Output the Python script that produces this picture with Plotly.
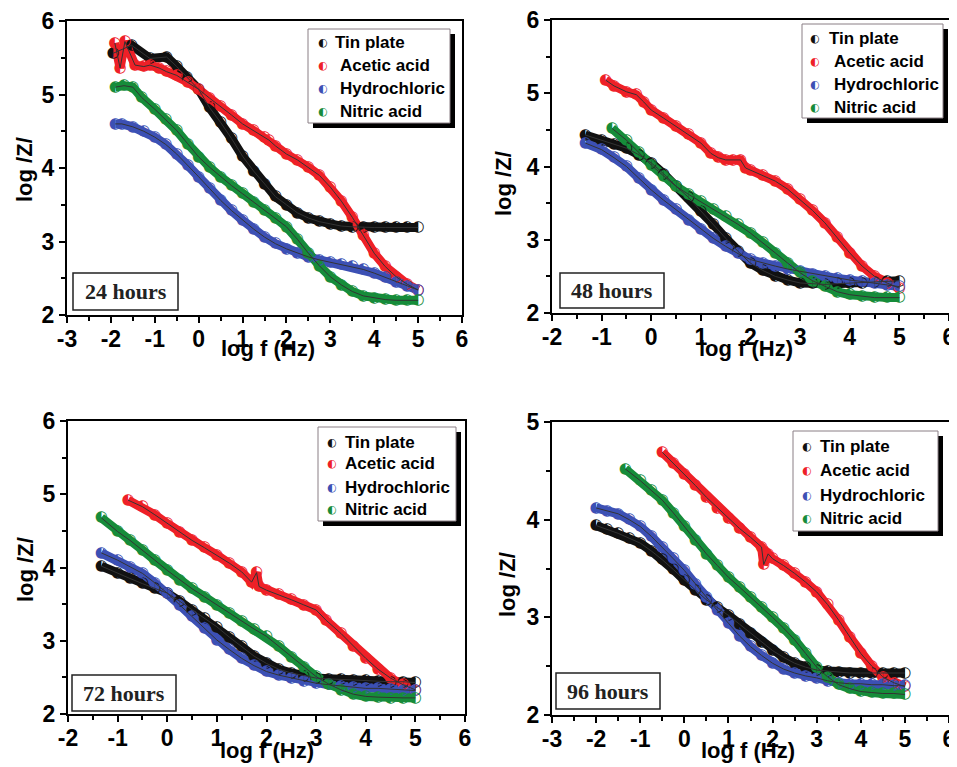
import plotly.graph_objects as go

W, H = 957, 767
PAGE_OFFSET = 8  # the page body margin shifts the figure by this many pixels

SERIES = ["Tin plate", "Acetic acid", "Hydrochloric", "Nitric acid"]
COLORS = ["#111111", "#ee2027", "#3c50b4", "#168c3a"]
PANEL_LABELS = ["24 hours", "48 hours", "72 hours", "96 hours"]
X_TICKS_A = [-3, -2, -1, 0, 1, 2, 3, 4, 5, 6]
X_TICKS_B = [-2, -1, 0, 1, 2, 3, 4, 5, 6]
Y_TICKS_A = [2, 3, 4, 5, 6]
Y_TICKS_B = [2, 3, 4, 5]

# ---------------- 24 hours ----------------
x24_tin = [-1.95, -1.53, -1.11, -0.73, -0.5, -0.27, 0, 0.25, 0.5, 0.75, 1.0, 1.25, 1.5, 1.75, 2.0, 2.25, 2.5, 2.75, 3.0, 3.25, 3.5, 3.75, 4.0, 4.25, 4.5, 4.75, 5.0]
y24_tin = [5.56, 5.67, 5.49, 5.51, 5.38, 5.24, 5.07, 4.82, 4.62, 4.40, 4.16, 3.96, 3.78, 3.61, 3.50, 3.39, 3.32, 3.27, 3.24, 3.21, 3.20, 3.19, 3.19, 3.19, 3.19, 3.19, 3.19]
x24_ace = [-1.91, -1.79, -1.68, -1.45, -1.25, -1.11, -0.9, -0.73, -0.5, -0.25, 0, 0.25, 0.5, 0.75, 1.0, 1.25, 1.5, 1.6, 1.75, 2.0, 2.25, 2.5, 2.75, 3.0, 3.25, 3.5, 3.75, 4.0, 4.25, 4.5, 4.75, 5.0]
y24_ace = [5.70, 5.36, 5.72, 5.40, 5.38, 5.40, 5.36, 5.31, 5.26, 5.17, 5.07, 4.95, 4.84, 4.72, 4.60, 4.51, 4.42, 4.38, 4.30, 4.19, 4.11, 4.01, 3.90, 3.74, 3.55, 3.33, 3.08, 2.84, 2.66, 2.52, 2.42, 2.34]
x24_hcl = [-1.9, -1.75, -1.5, -1.25, -1.0, -0.75, -0.5, -0.25, 0, 0.25, 0.5, 0.75, 1.0, 1.25, 1.5, 1.75, 2.0, 2.25, 2.5, 2.75, 3.0, 3.25, 3.5, 3.75, 4.0, 4.25, 4.5, 4.75, 5.0]
y24_hcl = [4.60, 4.60, 4.56, 4.50, 4.42, 4.32, 4.19, 4.04, 3.88, 3.72, 3.56, 3.42, 3.29, 3.17, 3.06, 2.97, 2.90, 2.84, 2.79, 2.75, 2.72, 2.69, 2.66, 2.62, 2.57, 2.51, 2.45, 2.39, 2.34]
x24_nit = [-1.9, -1.7, -1.5, -1.3, -1.0, -0.75, -0.5, -0.25, 0, 0.25, 0.5, 0.75, 1.0, 1.25, 1.5, 1.75, 2.0, 2.25, 2.5, 2.75, 3.0, 3.25, 3.5, 3.75, 4.0, 4.25, 4.5, 4.75, 5.0]
y24_nit = [5.10, 5.12, 5.10, 4.96, 4.80, 4.66, 4.51, 4.33, 4.15, 4.01, 3.88, 3.76, 3.65, 3.54, 3.43, 3.32, 3.20, 3.03, 2.84, 2.67, 2.52, 2.41, 2.32, 2.26, 2.23, 2.21, 2.20, 2.20, 2.20]

# ---------------- 48 hours ----------------
x48_tin = [-1.33, -1.0, -0.75, -0.5, -0.25, 0, 0.25, 0.5, 0.75, 1.0, 1.25, 1.5, 1.75, 2.0, 2.25, 2.5, 2.75, 3.0, 3.25, 3.5, 3.75, 4.0, 4.25, 4.5, 4.75, 5.0]
y48_tin = [4.43, 4.36, 4.31, 4.25, 4.16, 4.05, 3.90, 3.73, 3.58, 3.39, 3.21, 3.02, 2.84, 2.68, 2.58, 2.50, 2.45, 2.41, 2.40, 2.39, 2.40, 2.41, 2.41, 2.42, 2.43, 2.44]
x48_ace = [-0.92, -0.75, -0.5, -0.3, -0.15, 0, 0.25, 0.5, 0.75, 1.0, 1.2, 1.35, 1.5, 1.65, 1.8, 1.9, 2.0, 2.25, 2.5, 2.75, 3.0, 3.25, 3.5, 3.75, 4.0, 4.25, 4.5, 4.75, 5.0]
y48_ace = [5.18, 5.10, 5.02, 4.98, 4.88, 4.77, 4.66, 4.55, 4.44, 4.32, 4.18, 4.12, 4.09, 4.09, 4.09, 3.98, 3.95, 3.88, 3.80, 3.69, 3.55, 3.40, 3.23, 3.03, 2.82, 2.64, 2.50, 2.41, 2.34]
x48_hcl = [-1.33, -1.0, -0.75, -0.5, -0.25, 0, 0.25, 0.5, 0.75, 1.0, 1.25, 1.5, 1.75, 2.0, 2.25, 2.5, 2.75, 3.0, 3.25, 3.5, 3.75, 4.0, 4.25, 4.5, 4.75, 5.0]
y48_hcl = [4.32, 4.23, 4.12, 4.00, 3.84, 3.68, 3.54, 3.41, 3.27, 3.14, 3.02, 2.91, 2.81, 2.73, 2.68, 2.64, 2.60, 2.57, 2.53, 2.50, 2.47, 2.45, 2.43, 2.41, 2.38, 2.36]
x48_nit = [-0.79, -0.5, -0.25, 0, 0.25, 0.5, 0.75, 1.0, 1.25, 1.5, 1.75, 2.0, 2.25, 2.5, 2.75, 3.0, 3.25, 3.5, 3.75, 4.0, 4.25, 4.5, 4.75, 5.0]
y48_nit = [4.52, 4.36, 4.19, 4.02, 3.87, 3.73, 3.62, 3.52, 3.42, 3.32, 3.21, 3.09, 2.96, 2.82, 2.68, 2.55, 2.44, 2.36, 2.29, 2.25, 2.23, 2.21, 2.21, 2.21]

# ---------------- 72 hours ----------------
x72_tin = [-1.33, -1.0, -0.75, -0.5, -0.25, 0, 0.25, 0.5, 0.75, 1.0, 1.25, 1.5, 1.75, 2.0, 2.25, 2.5, 2.75, 3.0, 3.25, 3.5, 3.75, 4.0, 4.25, 4.5, 4.75, 5.0]
y72_tin = [4.02, 3.92, 3.85, 3.78, 3.72, 3.65, 3.54, 3.42, 3.31, 3.19, 3.05, 2.92, 2.79, 2.69, 2.61, 2.56, 2.52, 2.49, 2.48, 2.47, 2.46, 2.46, 2.45, 2.44, 2.44, 2.43]
x72_ace = [-0.79, -0.5, -0.25, 0, 0.25, 0.5, 0.75, 1.0, 1.25, 1.5, 1.7, 1.8, 1.85, 2.0, 2.25, 2.5, 2.75, 3.0, 3.2, 3.5, 3.75, 4.0, 4.25, 4.5, 4.75, 5.0]
y72_ace = [4.92, 4.83, 4.72, 4.60, 4.48, 4.37, 4.27, 4.17, 4.06, 3.94, 3.80, 3.93, 3.74, 3.69, 3.63, 3.56, 3.49, 3.42, 3.28, 3.10, 2.93, 2.76, 2.61, 2.49, 2.40, 2.33]
x72_hcl = [-1.33, -1.0, -0.75, -0.5, -0.25, 0, 0.25, 0.5, 0.75, 1.0, 1.25, 1.5, 1.75, 2.0, 2.25, 2.5, 2.75, 3.0, 3.25, 3.5, 3.75, 4.0, 4.25, 4.5, 4.75, 5.0]
y72_hcl = [4.20, 4.10, 4.01, 3.92, 3.79, 3.65, 3.49, 3.33, 3.17, 3.01, 2.88, 2.76, 2.66, 2.58, 2.53, 2.49, 2.45, 2.42, 2.40, 2.38, 2.36, 2.35, 2.35, 2.34, 2.33, 2.32]
x72_nit = [-1.33, -1.0, -0.75, -0.5, -0.25, 0, 0.25, 0.5, 0.75, 1.0, 1.25, 1.5, 1.75, 2.0, 2.25, 2.5, 2.75, 3.0, 3.25, 3.5, 3.75, 4.0, 4.25, 4.5, 4.75, 5.0]
y72_nit = [4.68, 4.49, 4.37, 4.24, 4.10, 3.96, 3.83, 3.71, 3.60, 3.49, 3.37, 3.26, 3.16, 3.06, 2.92, 2.78, 2.64, 2.51, 2.41, 2.33, 2.27, 2.24, 2.23, 2.22, 2.22, 2.22]

# ---------------- 96 hours ----------------
x96_tin = [-2.0, -1.75, -1.5, -1.25, -1.0, -0.75, -0.5, -0.25, 0, 0.25, 0.5, 0.75, 1.0, 1.25, 1.5, 1.75, 2.0, 2.25, 2.5, 2.75, 3.0, 3.25, 3.5, 3.75, 4.0, 4.25, 4.5, 4.75, 5.0]
y96_tin = [3.94, 3.90, 3.86, 3.81, 3.76, 3.68, 3.59, 3.49, 3.38, 3.28, 3.18, 3.10, 3.02, 2.93, 2.84, 2.75, 2.66, 2.59, 2.53, 2.49, 2.46, 2.45, 2.44, 2.43, 2.43, 2.43, 2.43, 2.43, 2.43]
x96_ace = [-0.5, -0.25, 0, 0.25, 0.5, 0.75, 1.0, 1.25, 1.5, 1.75, 1.8, 1.9, 2.0, 2.25, 2.5, 2.75, 3.0, 3.25, 3.5, 3.75, 4.0, 4.25, 4.5, 4.75, 5.0]
y96_ace = [4.69, 4.58, 4.47, 4.35, 4.23, 4.12, 4.01, 3.91, 3.82, 3.72, 3.54, 3.65, 3.60, 3.53, 3.45, 3.36, 3.26, 3.13, 2.97, 2.80, 2.63, 2.50, 2.39, 2.33, 2.29]
x96_hcl = [-2.0, -1.75, -1.5, -1.25, -1.0, -0.75, -0.5, -0.25, 0, 0.25, 0.5, 0.75, 1.0, 1.25, 1.5, 1.75, 2.0, 2.25, 2.5, 2.75, 3.0, 3.25, 3.5, 3.75, 4.0, 4.25, 4.5, 4.75, 5.0]
y96_hcl = [4.12, 4.09, 4.06, 4.00, 3.93, 3.83, 3.72, 3.60, 3.48, 3.34, 3.21, 3.07, 2.94, 2.81, 2.70, 2.61, 2.53, 2.47, 2.43, 2.40, 2.38, 2.35, 2.33, 2.32, 2.32, 2.31, 2.31, 2.30, 2.30]
x96_nit = [-1.34, -1.0, -0.75, -0.5, -0.25, 0, 0.25, 0.5, 0.75, 1.0, 1.25, 1.5, 1.75, 2.0, 2.25, 2.5, 2.75, 3.0, 3.25, 3.5, 3.75, 4.0, 4.25, 4.5, 4.75, 5.0]
y96_nit = [4.52, 4.40, 4.30, 4.20, 4.07, 3.93, 3.79, 3.65, 3.53, 3.41, 3.31, 3.21, 3.10, 3.00, 2.89, 2.77, 2.63, 2.49, 2.39, 2.31, 2.27, 2.24, 2.23, 2.22, 2.22, 2.21]

PANEL_DATA = [
    [(x24_tin, y24_tin), (x24_ace, y24_ace), (x24_hcl, y24_hcl), (x24_nit, y24_nit)],
    [(x48_tin, y48_tin), (x48_ace, y48_ace), (x48_hcl, y48_hcl), (x48_nit, y48_nit)],
    [(x72_tin, y72_tin), (x72_ace, y72_ace), (x72_hcl, y72_hcl), (x72_nit, y72_nit)],
    [(x96_tin, y96_tin), (x96_ace, y96_ace), (x96_hcl, y96_hcl), (x96_nit, y96_nit)],
]
PANEL_XTICKS = [X_TICKS_A, X_TICKS_B, X_TICKS_B, X_TICKS_A]
PANEL_YTICKS = [Y_TICKS_A, Y_TICKS_A, Y_TICKS_A, Y_TICKS_B]

# ---------------- layout geometry (screen pixels) ----------------
PLOT_BOXES = [(67, 21, 462, 315), (552, 20, 949, 313), (68, 421, 465, 714), (552, 422, 949, 715)]
LEGEND_BOXES = [(308, 29, 450, 123), (802, 24, 943, 118), (318, 427, 456, 521), (793, 431, 938, 531)]
LEGEND_ROWS = [(43, 66, 88, 111), (39, 62, 85, 107), (442, 464, 487, 509), (446, 470, 495, 518)]
LEGEND_SYM_X = [323, 815, 332, 807]
LEGEND_TXT_X = [338, 832, 343, 818]
HOUR_BOXES = [(73, 273, 178, 310), (560, 273, 664, 308), (72, 675, 176, 711), (556, 673, 660, 709)]
YTITLE_POS = [(25, 170), (503, 184), (25, 570), (507, 585)]
XTITLE_POS = [(268, 349), (746, 348), (267, 750), (748, 750)]

def fx(p):
    return (p - PAGE_OFFSET) / W

def fy(p):
    return 1 - (p - PAGE_OFFSET) / H

BOLD_SANS = "Liberation Sans, Arial, sans-serif"

fig = go.Figure()
shapes = []
annotations = []
layout_axes = {}

for i in range(4):
    sfx = "" if i == 0 else str(i + 1)
    xa, ya = "x" + sfx, "y" + sfx
    x0, y0, x1, y1 = PLOT_BOXES[i]
    xt, yt = PANEL_XTICKS[i], PANEL_YTICKS[i]

    common = dict(
        ticks="outside", ticklen=6, tickwidth=2, tickcolor="black",
        showline=True, linewidth=2, linecolor="black", mirror=True,
        showgrid=False, zeroline=False, fixedrange=True, automargin=False,
        ticklabeloverflow="allow",
        tickfont=dict(family=BOLD_SANS, size=23, color="black", weight="bold"),
    )
    layout_axes["xaxis" + sfx] = dict(
        common, domain=[fx(x0), fx(x1)], range=[xt[0], xt[-1]], anchor=ya,
        tickmode="array", tickvals=xt, ticktext=[str(t) for t in xt],
        ticklabelstandoff=-4,
        minor=dict(tickvals=[t + 0.5 for t in xt[:-1]], ticks="outside", ticklen=4,
                   tickwidth=1.5, tickcolor="black", showgrid=False),
    )
    layout_axes["yaxis" + sfx] = dict(
        common, domain=[fy(y1), fy(y0)], range=[yt[0], yt[-1]], anchor=xa,
        tickmode="array", tickvals=yt, ticktext=[str(t) for t in yt],
        minor=dict(tickvals=[t + 0.5 for t in yt[:-1]], ticks="outside", ticklen=4,
                   tickwidth=1.5, tickcolor="black", showgrid=False),
    )

    # coloured band under the markers (the densely packed measured points)
    for k, (xs, ys) in enumerate(PANEL_DATA[i]):
        fig.add_trace(go.Scatter(
            x=xs, y=ys, xaxis=xa, yaxis=ya, mode="lines",
            line=dict(color=COLORS[k], width=9),
            showlegend=False, hoverinfo="skip",
        ))
    # data markers (half-filled circles)
    for k, (xs, ys) in enumerate(PANEL_DATA[i]):
        fig.add_trace(go.Scatter(
            x=xs, y=ys, xaxis=xa, yaxis=ya, mode="text",
            text=["\u25d0"] * len(xs), textposition="middle center",
            textfont=dict(family="DejaVu Sans", size=15, color=COLORS[k]),
            showlegend=False, hoverinfo="skip", cliponaxis=False,
        ))
    # thin fitted lines
    for k, (xs, ys) in enumerate(PANEL_DATA[i]):
        fig.add_trace(go.Scatter(
            x=xs, y=ys, xaxis=xa, yaxis=ya, mode="lines",
            line=dict(color="#333333", width=1),
            showlegend=False, hoverinfo="skip",
        ))

    # legend box with shadow
    lx0, ly0, lx1, ly1 = LEGEND_BOXES[i]
    shapes.append(dict(type="rect", xref="paper", yref="paper",
                       x0=fx(lx0 + 5), x1=fx(lx1 + 5), y0=fy(ly1 + 5), y1=fy(ly0 + 5),
                       fillcolor="black", line=dict(width=0)))
    shapes.append(dict(type="rect", xref="paper", yref="paper",
                       x0=fx(lx0), x1=fx(lx1), y0=fy(ly1), y1=fy(ly0),
                       fillcolor="white", line=dict(color="#8a7f85", width=1)))
    for k, name in enumerate(SERIES):
        ry = LEGEND_ROWS[i][k]
        annotations.append(dict(xref="paper", yref="paper", x=fx(LEGEND_SYM_X[i]), y=fy(ry),
                                text="\u25d0", showarrow=False, xanchor="center", yanchor="middle",
                                font=dict(family="DejaVu Sans", size=11, color=COLORS[k])))
        tx = LEGEND_TXT_X[i] - (5 if (k == 0 and i < 2) else 0)
        annotations.append(dict(xref="paper", yref="paper", x=fx(tx), y=fy(ry),
                                text=name, showarrow=False, xanchor="left", yanchor="middle",
                                font=dict(family=BOLD_SANS, size=17, color="black", weight="bold")))

    # hours label box
    hx0, hy0, hx1, hy1 = HOUR_BOXES[i]
    shapes.append(dict(type="rect", xref="paper", yref="paper",
                       x0=fx(hx0), x1=fx(hx1), y0=fy(hy1), y1=fy(hy0),
                       fillcolor="white", line=dict(color="#222222", width=1.5)))
    annotations.append(dict(xref="paper", yref="paper", x=fx((hx0 + hx1) / 2), y=fy((hy0 + hy1) / 2),
                            text=PANEL_LABELS[i], showarrow=False, xanchor="center", yanchor="middle",
                            font=dict(family="Liberation Serif, Times New Roman, serif", size=22,
                                      color="#222222", weight="bold")))

    # axis titles
    tx, ty = YTITLE_POS[i]
    annotations.append(dict(xref="paper", yref="paper", x=fx(tx), y=fy(ty), text="log /Z/",
                            textangle=-90, showarrow=False, xanchor="center", yanchor="middle",
                            font=dict(family=BOLD_SANS, size=22, color="black", weight="bold")))
    tx, ty = XTITLE_POS[i]
    annotations.append(dict(xref="paper", yref="paper", x=fx(tx), y=fy(ty), text="log f (Hz)",
                            showarrow=False, xanchor="center", yanchor="middle",
                            font=dict(family=BOLD_SANS, size=22, color="black", weight="bold")))

fig.update_layout(
    width=W, height=H, margin=dict(l=0, r=0, t=0, b=0),
    paper_bgcolor="white", plot_bgcolor="white",
    showlegend=False, shapes=shapes, annotations=annotations,
    **layout_axes,
)

fig.write_html("out.html")
